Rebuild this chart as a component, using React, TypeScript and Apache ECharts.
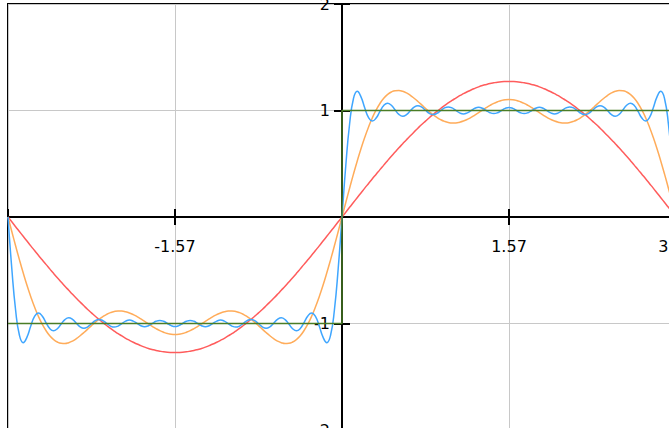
import React, { useEffect, useRef } from "react";
import * as echarts from "echarts";

// Values read along x = i * PI / 88 for i = 0..44 (quarter period, 0 .. PI/2).
// The curves are odd in x and symmetric about PI/2, so the rest of the period
// is built from these readings.
const sum1Quarter = [
  0.0, 0.045, 0.091, 0.136, 0.181, 0.226, 0.271, 0.315, 0.359, 0.402, 0.445,
  0.487, 0.529, 0.57, 0.61, 0.65, 0.688, 0.726, 0.763, 0.799, 0.834, 0.868,
  0.9, 0.932, 0.962, 0.991, 1.019, 1.046, 1.071, 1.095, 1.117, 1.139, 1.158,
  1.176, 1.193, 1.208, 1.222, 1.234, 1.244, 1.253, 1.26, 1.266, 1.27, 1.272,
  1.273,
];
const sum3Quarter = [
  0.0, 0.136, 0.27, 0.4, 0.524, 0.641, 0.748, 0.846, 0.932, 1.005, 1.066,
  1.115, 1.15, 1.174, 1.186, 1.188, 1.18, 1.165, 1.143, 1.115, 1.085, 1.053,
  1.02, 0.989, 0.96, 0.935, 0.914, 0.898, 0.887, 0.882, 0.883, 0.89, 0.901,
  0.916, 0.935, 0.957, 0.98, 1.003, 1.026, 1.048, 1.067, 1.082, 1.094, 1.101,
  1.103,
];
const sum11Quarter = [
  0.0, 0.483, 0.873, 1.108, 1.18, 1.128, 1.024, 0.934, 0.901, 0.929, 0.991,
  1.047, 1.068, 1.049, 1.005, 0.963, 0.947, 0.962, 0.997, 1.031, 1.044, 1.031,
  1.002, 0.973, 0.962, 0.973, 0.999, 1.024, 1.034, 1.024, 1.001, 0.978, 0.968,
  0.978, 0.999, 1.021, 1.03, 1.021, 1.0, 0.979, 0.971, 0.979, 1.0, 1.02,
  1.029,
];
// Square wave sign(x)
const squareX = [-Math.PI, 0, 0, Math.PI];
const squareY = [-1, -1, 1, 1];

const xTicks = { min: -Math.PI, max: Math.PI, interval: Math.PI / 2 };
const yTicks = { min: -2, max: 2, interval: 1 };

const STEPS = 88;
function buildSeries(quarter: number[]): [number, number][] {
  const pts: [number, number][] = [];
  const half = STEPS / 2;
  for (let j = -STEPS; j <= STEPS; j++) {
    const a = Math.abs(j);
    const q = a <= half ? a : STEPS - a;
    pts.push([(j * Math.PI) / STEPS, Math.sign(j) * quarter[q]]);
  }
  return pts;
}

const FONT = "DejaVu Sans";
const GRID_W = 668;
const GRID_H = 426;

export default function App() {
  const ref = useRef<HTMLDivElement>(null);
  useEffect(() => {
    if (!ref.current) return;
    const chart = echarts.init(ref.current, undefined, { renderer: "svg" });
    const tickLine = { color: "#000", width: 2 };
    const axisLine = { show: true, onZero: false, lineStyle: { color: "#000", width: 2 } };
    // axes cross at the data origin, which is the middle of the plot box
    const xOffset = -GRID_H / 2;
    const yOffset = -GRID_W / 2;
    const xBase = {
      type: "value" as const,
      gridIndex: 0,
      min: xTicks.min,
      max: xTicks.max,
      interval: xTicks.interval,
      position: "bottom" as const,
      offset: xOffset,
      axisLine,
    };
    const yBase = {
      type: "value" as const,
      gridIndex: 0,
      min: yTicks.min,
      max: yTicks.max,
      interval: yTicks.interval,
      position: "left" as const,
      offset: yOffset,
      axisLine,
    };
    chart.setOption({
      animation: false,
      backgroundColor: "#fff",
      grid: {
        left: 8,
        top: 44,
        width: GRID_W,
        height: GRID_H,
        show: true,
        borderColor: "#000",
        borderWidth: 2,
        backgroundColor: "transparent",
        containLabel: false,
        outerBoundsMode: "none",
      },
      graphic: [
        {
          type: "text",
          x: 196,
          y: 39,
          silent: true,
          style: {
            text: "sign(x)",
            fontSize: 20,
            fontFamily: FONT,
            fill: "#000",
            verticalAlign: "bottom",
          },
        },
      ],
      xAxis: [
        {
          ...xBase,
          axisTick: { show: true, inside: false, length: 8, lineStyle: tickLine },
          axisLabel: {
            show: true,
            margin: 21,
            fontSize: 16,
            fontFamily: FONT,
            color: "#000",
            showMinLabel: false,
            formatter: (v: number) => (Math.abs(v) < 1e-9 ? "" : v.toFixed(2)),
          },
          splitLine: { show: true, lineStyle: { color: "#c8c8c8", width: 1 } },
        },
        {
          ...xBase,
          axisTick: { show: true, inside: true, length: 8, lineStyle: tickLine },
          axisLabel: { show: false },
          splitLine: { show: false },
        },
      ],
      yAxis: [
        {
          ...yBase,
          axisTick: { show: true, inside: false, length: 8, lineStyle: tickLine },
          axisLabel: {
            show: true,
            margin: 12,
            fontSize: 16,
            fontFamily: FONT,
            color: "#000",
            formatter: (v: number) => (Math.abs(v) < 1e-9 ? "" : String(v)),
          },
          splitLine: { show: true, lineStyle: { color: "#c8c8c8", width: 1 } },
        },
        {
          ...yBase,
          axisTick: { show: true, inside: true, length: 8, lineStyle: tickLine },
          axisLabel: { show: false },
          splitLine: { show: false },
        },
      ],
      series: [
        {
          name: "1 term",
          type: "line",
          data: buildSeries(sum1Quarter),
          showSymbol: false,
          smooth: true,
          lineStyle: { color: "#ff5c5c", width: 1.5 },
          itemStyle: { color: "#ff5c5c" },
        },
        {
          name: "3 terms",
          type: "line",
          data: buildSeries(sum3Quarter),
          showSymbol: false,
          smooth: true,
          lineStyle: { color: "#ffac5a", width: 1.5 },
          itemStyle: { color: "#ffac5a" },
        },
        {
          name: "11 terms",
          type: "line",
          data: buildSeries(sum11Quarter),
          showSymbol: false,
          smooth: true,
          lineStyle: { color: "#3fa6ff", width: 1.5 },
          itemStyle: { color: "#3fa6ff" },
        },
        {
          name: "sign(x)",
          type: "line",
          data: squareX.map((x, i) => [x, squareY[i]]),
          showSymbol: false,
          lineStyle: { color: "#4a7d26", width: 1.5 },
          itemStyle: { color: "#4a7d26" },
        },
      ],
    });
    return () => chart.dispose();
  }, []);

  return (
    <div
      style={{
        position: "fixed",
        left: 0,
        top: 0,
        width: 669,
        height: 428,
        overflow: "hidden",
        background: "#fff",
      }}
    >
      <div
        ref={ref}
        style={{ position: "absolute", left: 0, top: -40, width: 720, height: 500 }}
      />
    </div>
  );
}
